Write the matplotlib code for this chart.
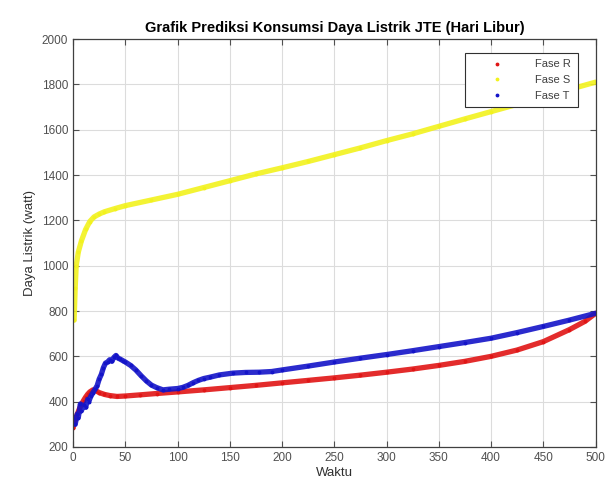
import matplotlib
matplotlib.use('Agg')
import matplotlib.pyplot as plt
import numpy as np

plt.rcParams['font.family'] = ['Liberation Sans', 'DejaVu Sans']

# Fase R (merah)
xR = [0, 2, 4, 6, 8, 10, 12, 14, 16, 19, 22, 25, 30, 35, 42, 50, 64, 80, 100,
      125, 150, 175, 200, 225, 250, 275, 300, 325, 350, 375, 400, 425, 450,
      475, 490, 500]
yR = [285, 320, 345, 368, 388, 405, 420, 433, 443, 452, 448, 440, 432, 427, 423,
      425, 430, 436, 443, 452, 462, 472, 483, 494, 505, 517, 530, 544, 560, 578,
      600, 628, 665, 718, 755, 790]

# Fase S (kuning)
xS = [1, 2, 3, 5, 8, 12, 16, 20, 25, 30, 40, 50, 75, 100, 125, 150, 175, 200,
      225, 250, 275, 300, 325, 350, 375, 400, 425, 450, 475, 500]
yS = [760, 900, 1000, 1060, 1110, 1160, 1195, 1215, 1228, 1238, 1252, 1265, 1290,
      1315, 1345, 1375, 1405, 1432, 1460, 1490, 1520, 1552, 1582, 1615, 1648,
      1680, 1712, 1745, 1778, 1810]

# Fase T (biru)
xT = [0, 2, 4, 5, 7, 8, 10, 12, 14, 15, 17, 19, 21, 23, 25, 27, 29, 31, 33, 35,
      37, 39, 41, 43, 45, 48, 50, 55, 60, 65, 70, 75, 80, 86, 92, 100, 105, 110,
      115, 120, 125, 131, 140, 153, 165, 178, 190, 200, 225, 250, 275, 300, 325,
      350, 375, 400, 425, 450, 475, 500]
yT = [330, 300, 345, 330, 390, 360, 385, 375, 410, 400, 425, 440, 455, 470, 500,
      520, 550, 570, 575, 585, 578, 595, 604, 592, 588, 580, 575, 560, 540, 515,
      492, 473, 462, 452, 455, 458, 463, 472, 484, 494, 502, 508, 518, 526, 529,
      530, 533, 540, 557, 575, 592, 608, 625, 643, 661, 680, 705, 732, 760, 790]

fig = plt.figure(figsize=(6.09, 4.95), dpi=100)
ax = fig.add_axes([0.12, 0.097, 0.858, 0.824])

series = [(xR, yR, '#e01515', 'Fase R'),
          (xS, yS, '#f2f21e', 'Fase S'),
          (xT, yT, '#1414c8', 'Fase T')]
for x, y, c, lab in series:
    ax.plot(x, y, '-', color=c, lw=3.8, solid_capstyle='round',
            solid_joinstyle='round', alpha=0.9)
    ax.plot(x, y, '.', color=c, ms=3.5, label=lab)

ax.set_xlim(0, 500)
ax.set_ylim(200, 2000)
ax.set_xticks(np.arange(0, 501, 50))
ax.set_yticks(np.arange(200, 2001, 200))
ax.grid(True, color='#dcdcdc', lw=0.8)
ax.set_axisbelow(True)
ax.tick_params(direction='in', top=True, right=True, labelsize=8.5,
               colors='#505050', length=4)
for s in ax.spines.values():
    s.set_color('#404040')
    s.set_linewidth(0.9)

ax.set_title('Grafik Prediksi Konsumsi Daya Listrik JTE (Hari Libur)',
             fontsize=10.5, fontweight='bold', pad=5)
ax.set_xlabel('Waktu', fontsize=9.5, color='#303030', labelpad=2)
ax.set_ylabel('Daya Listrik (watt)', fontsize=9.5, color='#303030', labelpad=4)

leg = ax.legend(loc='upper right', fontsize=8, fancybox=False, framealpha=1,
                edgecolor='#303030', borderpad=0.6, handlelength=4.5,
                handletextpad=1.2, labelspacing=0.5,
                bbox_to_anchor=(0.976, 0.98))
leg.get_frame().set_linewidth(0.8)
for t in leg.get_texts():
    t.set_color('#404040')

plt.savefig('out.png', dpi=100)
